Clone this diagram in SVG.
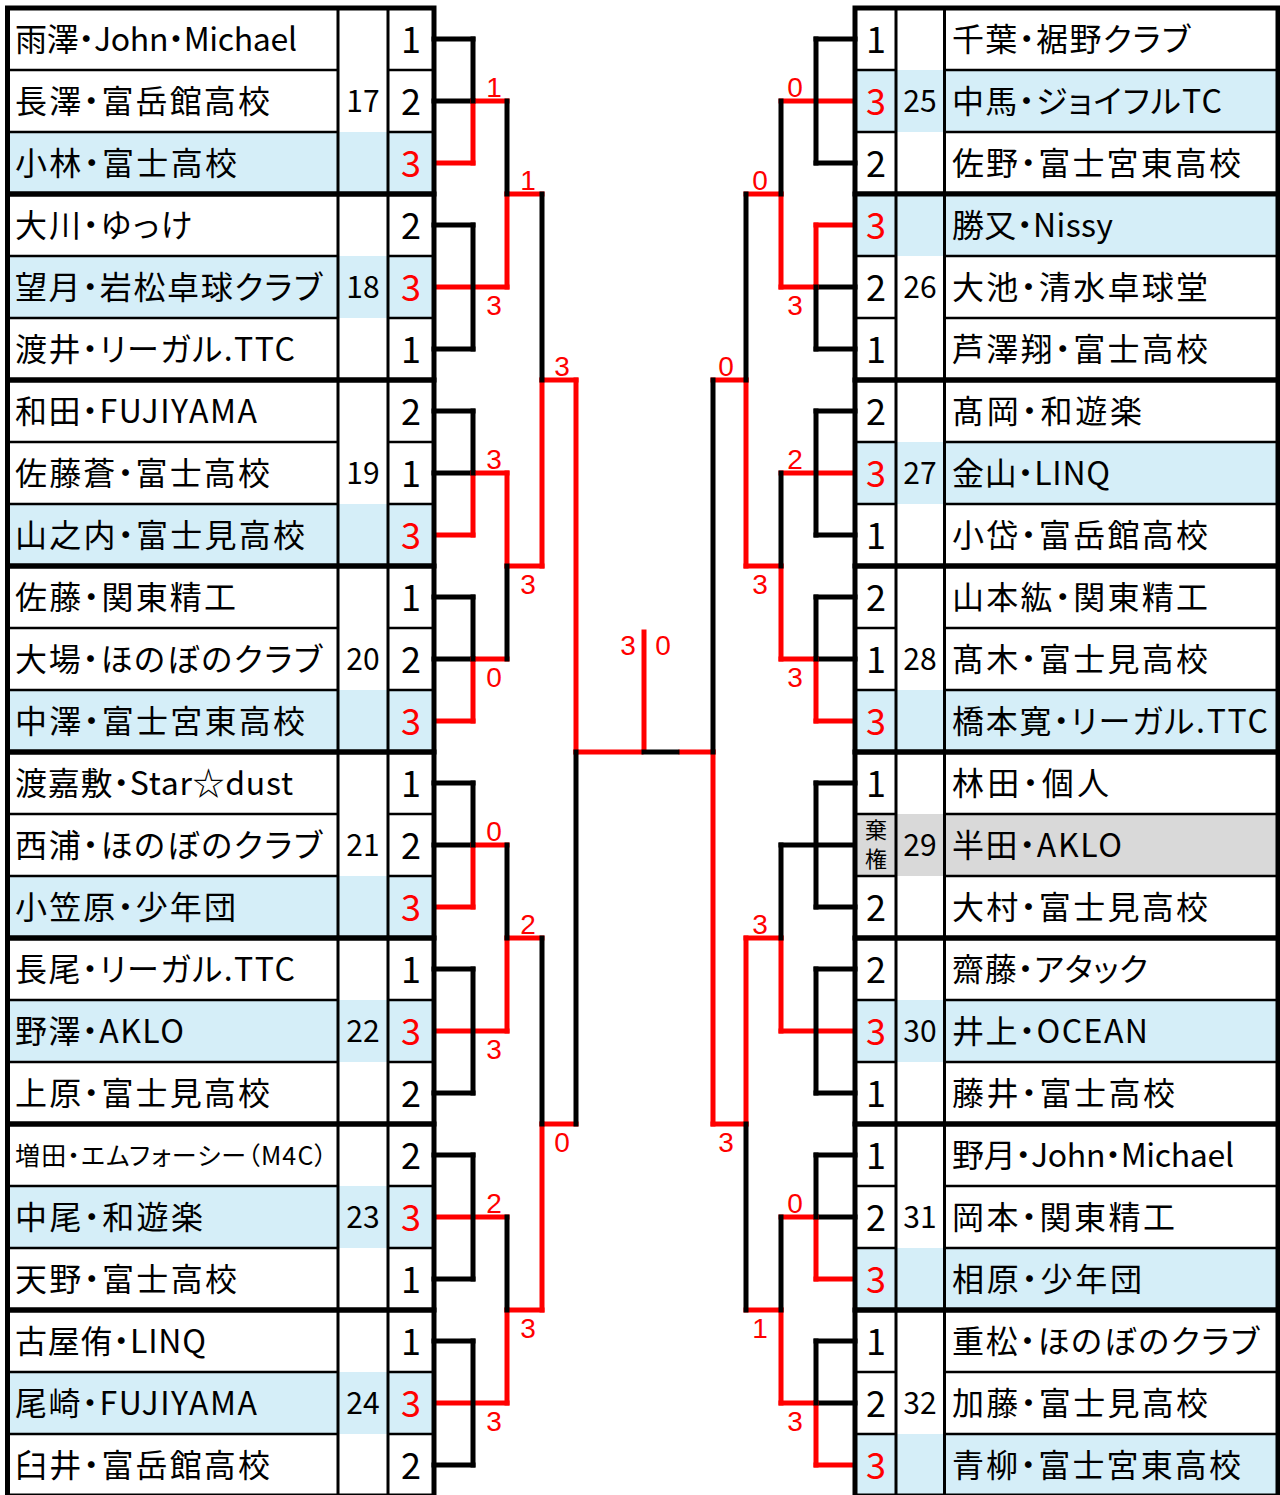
<svg xmlns="http://www.w3.org/2000/svg" width="1280" height="1495" viewBox="0 0 1280 1495">
<style>
.nm{font-family:"Noto Sans CJK JP","Noto Sans",sans-serif;font-size:32px;fill:#000;font-feature-settings:"palt"}
.sm{font-size:25px}
.sc{font-family:"Noto Sans CJK JP","Noto Sans",sans-serif;font-size:36px;text-anchor:middle;fill:#000}
.w{fill:#f00}
.gn{font-family:"Noto Sans CJK JP","Noto Sans",sans-serif;font-size:30px;text-anchor:middle;fill:#000}
.kk{font-family:"Noto Sans CJK JP","Noto Sans",sans-serif;font-size:22px;text-anchor:middle;fill:#000}
.lb{font-family:"Liberation Sans",Arial,sans-serif;font-size:28px;fill:#f00;text-anchor:middle}
.bl{fill:#D5EEF8}
.gy{fill:#D9D9D9}
.thin{stroke:#000;stroke-width:2.5;fill:none}
.col{stroke:#000;stroke-width:3;fill:none}
.box{stroke:#000;stroke-width:5;fill:none}
.k{stroke:#000;stroke-width:5;stroke-linecap:square;fill:none}
.r{stroke:#f00;stroke-width:5;stroke-linecap:square;fill:none}
</style>
<rect x="0" y="0" width="1280" height="1495" fill="#fff"/>

<g id="connectors">
<path class="k" d="M434 39H473M434 101H473M434 225H473M434 349H473M434 411H473M434 473H473M434 597H473M434 659H473M434 783H473M434 845H473M434 969H473M434 1093H473M434 1155H473M434 1279H473M434 1341H473M434 1465H473"/>
<path class="k" d="M855 39H816M855 163H816M855 287H816M855 349H816M855 411H816M855 535H816M855 597H816M855 659H816M855 783H816M855 907H816M855 969H816M855 1093H816M855 1155H816M855 1217H816M855 1341H816M855 1403H816M855 845H781"/>
<path class="r" d="M434 163H473M434 535H473M434 721H473M434 907H473M434 287H507M434 1031H507M434 1217H507M434 1403H507M473 101H507M473 473H507M473 659H507M473 845H507M507 194H542M507 566H542M507 938H542M507 1310H542M542 380H576M542 1124H576M576 752H641"/>
<path class="r" d="M855 225H816M855 721H816M855 1279H816M855 1465H816M855 101H781M855 473H781M855 1031H781M816 287H781M816 659H781M816 1217H781M816 1403H781M781 194H746M781 566H746M781 938H746M781 1310H746M746 380H713M746 1124H713M713 752H681"/>
<path class="r" d="M473 101V163M473 473V535M473 659V721M473 845V907M507 194V287M507 473V566M507 938V1031M507 1310V1403M542 380V566M542 1124V1310M576 380V752"/>
<path class="r" d="M816 225V287M816 659V721M816 1217V1279M816 1403V1465M781 194V287M781 566V659M781 938V1031M781 1310V1403M746 380V566M746 938V1124M713 752V1124"/>
<path class="r" d="M644 632V749"/>
<path class="k" d="M473 39V101M473 225V349M473 411V473M473 597V659M473 783V845M473 969V1093M473 1155V1279M473 1341V1465M507 101V194M507 566V659M507 845V938M507 1217V1310M542 194V380M542 938V1124M576 752V1124"/>
<path class="k" d="M816 39V163M816 287V349M816 411V535M816 597V659M816 783V907M816 969V1093M816 1155V1217M816 1341V1403M781 101V194M781 473V566M781 845V938M781 1217V1310M746 194V380M746 1124V1310M713 380V752"/>
<path class="k" d="M644 752H677"/>
<g id="connector-labels">
<text class="lb" x="494" y="97">1</text>
<text class="lb" x="494" y="315">3</text>
<text class="lb" x="494" y="469">3</text>
<text class="lb" x="494" y="687">0</text>
<text class="lb" x="494" y="841">0</text>
<text class="lb" x="494" y="1059">3</text>
<text class="lb" x="494" y="1213">2</text>
<text class="lb" x="494" y="1431">3</text>
<text class="lb" x="528" y="190">1</text>
<text class="lb" x="528" y="594">3</text>
<text class="lb" x="528" y="934">2</text>
<text class="lb" x="528" y="1338">3</text>
<text class="lb" x="562" y="376">3</text>
<text class="lb" x="562" y="1152">0</text>
<text class="lb" x="628" y="655">3</text>
<text class="lb" x="663" y="655">0</text>
<text class="lb" x="795" y="97">0</text>
<text class="lb" x="795" y="315">3</text>
<text class="lb" x="795" y="469">2</text>
<text class="lb" x="795" y="687">3</text>
<text class="lb" x="795" y="1213">0</text>
<text class="lb" x="795" y="1431">3</text>
<text class="lb" x="760" y="190">0</text>
<text class="lb" x="760" y="594">3</text>
<text class="lb" x="760" y="934">3</text>
<text class="lb" x="760" y="1338">1</text>
<text class="lb" x="726" y="376">0</text>
<text class="lb" x="726" y="1152">3</text>
</g>
</g>

<g id="g17">
<rect class="bl" x="10" y="132" width="422" height="62"/>
<text class="nm" x="15" y="51" textLength="282">雨澤・John・Michael</text>
<text class="nm" x="15" y="113" textLength="255">長澤・富岳館高校</text>
<text class="nm" x="15" y="175" textLength="222">小林・富士高校</text>
<text class="gn" x="363" y="112">17</text>
<text class="sc" x="411" y="53">1</text>
<text class="sc" x="411" y="115">2</text>
<text class="sc w" x="411" y="177">3</text>
<path class="thin" d="M8 70H338M388 70H434M8 132H338M388 132H434"/>
<path class="col" d="M338 8V194M388 8V194"/>
<rect class="box" x="7.5" y="8" width="426.5" height="186"/>
</g>
<g id="g18">
<rect class="bl" x="10" y="256" width="422" height="62"/>
<text class="nm" x="15" y="237" textLength="177">大川・ゆっけ</text>
<text class="nm" x="15" y="299" textLength="307">望月・岩松卓球クラブ</text>
<text class="nm" x="15" y="361" textLength="280">渡井・リーガル.TTC</text>
<text class="gn" x="363" y="298">18</text>
<text class="sc" x="411" y="239">2</text>
<text class="sc w" x="411" y="301">3</text>
<text class="sc" x="411" y="363">1</text>
<path class="thin" d="M8 256H338M388 256H434M8 318H338M388 318H434"/>
<path class="col" d="M338 194V380M388 194V380"/>
<rect class="box" x="7.5" y="194" width="426.5" height="186"/>
</g>
<g id="g19">
<rect class="bl" x="10" y="504" width="422" height="62"/>
<text class="nm" x="15" y="423" textLength="242">和田・FUJIYAMA</text>
<text class="nm" x="15" y="485" textLength="255">佐藤蒼・富士高校</text>
<text class="nm" x="15" y="547" textLength="290">山之内・富士見高校</text>
<text class="gn" x="363" y="484">19</text>
<text class="sc" x="411" y="425">2</text>
<text class="sc" x="411" y="487">1</text>
<text class="sc w" x="411" y="549">3</text>
<path class="thin" d="M8 442H338M388 442H434M8 504H338M388 504H434"/>
<path class="col" d="M338 380V566M388 380V566"/>
<rect class="box" x="7.5" y="380" width="426.5" height="186"/>
</g>
<g id="g20">
<rect class="bl" x="10" y="690" width="422" height="62"/>
<text class="nm" x="15" y="609" textLength="221">佐藤・関東精工</text>
<text class="nm" x="15" y="671" textLength="307">大場・ほのぼのクラブ</text>
<text class="nm" x="15" y="733" textLength="290">中澤・富士宮東高校</text>
<text class="gn" x="363" y="670">20</text>
<text class="sc" x="411" y="611">1</text>
<text class="sc" x="411" y="673">2</text>
<text class="sc w" x="411" y="735">3</text>
<path class="thin" d="M8 628H338M388 628H434M8 690H338M388 690H434"/>
<path class="col" d="M338 566V752M388 566V752"/>
<rect class="box" x="7.5" y="566" width="426.5" height="186"/>
</g>
<g id="g21">
<rect class="bl" x="10" y="876" width="422" height="62"/>
<text class="nm" x="15" y="795" textLength="278">渡嘉敷・Star☆dust</text>
<text class="nm" x="15" y="857" textLength="307">西浦・ほのぼのクラブ</text>
<text class="nm" x="15" y="919" textLength="221">小笠原・少年団</text>
<text class="gn" x="363" y="856">21</text>
<text class="sc" x="411" y="797">1</text>
<text class="sc" x="411" y="859">2</text>
<text class="sc w" x="411" y="921">3</text>
<path class="thin" d="M8 814H338M388 814H434M8 876H338M388 876H434"/>
<path class="col" d="M338 752V938M388 752V938"/>
<rect class="box" x="7.5" y="752" width="426.5" height="186"/>
</g>
<g id="g22">
<rect class="bl" x="10" y="1000" width="422" height="62"/>
<text class="nm" x="15" y="981" textLength="280">長尾・リーガル.TTC</text>
<text class="nm" x="15" y="1043" textLength="169">野澤・AKLO</text>
<text class="nm" x="15" y="1105" textLength="255">上原・富士見高校</text>
<text class="gn" x="363" y="1042">22</text>
<text class="sc" x="411" y="983">1</text>
<text class="sc w" x="411" y="1045">3</text>
<text class="sc" x="411" y="1107">2</text>
<path class="thin" d="M8 1000H338M388 1000H434M8 1062H338M388 1062H434"/>
<path class="col" d="M338 938V1124M388 938V1124"/>
<rect class="box" x="7.5" y="938" width="426.5" height="186"/>
</g>
<g id="g23">
<rect class="bl" x="10" y="1186" width="422" height="62"/>
<text class="nm sm" x="15" y="1165" textLength="312">増田・エムフォーシー（M4C）</text>
<text class="nm" x="15" y="1229" textLength="188">中尾・和遊楽</text>
<text class="nm" x="15" y="1291" textLength="222">天野・富士高校</text>
<text class="gn" x="363" y="1228">23</text>
<text class="sc" x="411" y="1169">2</text>
<text class="sc w" x="411" y="1231">3</text>
<text class="sc" x="411" y="1293">1</text>
<path class="thin" d="M8 1186H338M388 1186H434M8 1248H338M388 1248H434"/>
<path class="col" d="M338 1124V1310M388 1124V1310"/>
<rect class="box" x="7.5" y="1124" width="426.5" height="186"/>
</g>
<g id="g24">
<rect class="bl" x="10" y="1372" width="422" height="62"/>
<text class="nm" x="15" y="1353" textLength="191">古屋侑・LINQ</text>
<text class="nm" x="15" y="1415" textLength="242">尾崎・FUJIYAMA</text>
<text class="nm" x="15" y="1477" textLength="255">臼井・富岳館高校</text>
<text class="gn" x="363" y="1414">24</text>
<text class="sc" x="411" y="1355">1</text>
<text class="sc w" x="411" y="1417">3</text>
<text class="sc" x="411" y="1479">2</text>
<path class="thin" d="M8 1372H338M388 1372H434M8 1434H338M388 1434H434"/>
<path class="col" d="M338 1310V1496M388 1310V1496"/>
<rect class="box" x="7.5" y="1310" width="426.5" height="186"/>
</g>

<g id="g25">
<rect class="bl" x="857" y="70" width="419" height="62"/>
<text class="nm" x="952" y="51" textLength="238">千葉・裾野クラブ</text>
<text class="nm" x="952" y="113" textLength="270">中馬・ジョイフルTC</text>
<text class="nm" x="952" y="175" textLength="289">佐野・富士宮東高校</text>
<text class="gn" x="920" y="112">25</text>
<text class="sc" x="876" y="53">1</text>
<text class="sc w" x="876" y="115">3</text>
<text class="sc" x="876" y="177">2</text>
<path class="thin" d="M855 70H896M944.5 70H1278M855 132H896M944.5 132H1278"/>
<path class="col" d="M896 8V194M944.5 8V194"/>
<rect class="box" x="855" y="8" width="423" height="186"/>
</g>
<g id="g26">
<rect class="bl" x="857" y="194" width="419" height="62"/>
<text class="nm" x="952" y="237" textLength="161">勝又・Nissy</text>
<text class="nm" x="952" y="299" textLength="256">大池・清水卓球堂</text>
<text class="nm" x="952" y="361" textLength="256">芦澤翔・富士高校</text>
<text class="gn" x="920" y="298">26</text>
<text class="sc w" x="876" y="239">3</text>
<text class="sc" x="876" y="301">2</text>
<text class="sc" x="876" y="363">1</text>
<path class="thin" d="M855 256H896M944.5 256H1278M855 318H896M944.5 318H1278"/>
<path class="col" d="M896 194V380M944.5 194V380"/>
<rect class="box" x="855" y="194" width="423" height="186"/>
</g>
<g id="g27">
<rect class="bl" x="857" y="442" width="419" height="62"/>
<text class="nm" x="952" y="423" textLength="190">髙岡・和遊楽</text>
<text class="nm" x="952" y="485" textLength="158">金山・LINQ</text>
<text class="nm" x="952" y="547" textLength="256">小岱・富岳館高校</text>
<text class="gn" x="920" y="484">27</text>
<text class="sc" x="876" y="425">2</text>
<text class="sc w" x="876" y="487">3</text>
<text class="sc" x="876" y="549">1</text>
<path class="thin" d="M855 442H896M944.5 442H1278M855 504H896M944.5 504H1278"/>
<path class="col" d="M896 380V566M944.5 380V566"/>
<rect class="box" x="855" y="380" width="423" height="186"/>
</g>
<g id="g28">
<rect class="bl" x="857" y="690" width="419" height="62"/>
<text class="nm" x="952" y="609" textLength="256">山本紘・関東精工</text>
<text class="nm" x="952" y="671" textLength="256">髙木・富士見高校</text>
<text class="nm" x="952" y="733" textLength="316">橋本寛・リーガル.TTC</text>
<text class="gn" x="920" y="670">28</text>
<text class="sc" x="876" y="611">2</text>
<text class="sc" x="876" y="673">1</text>
<text class="sc w" x="876" y="735">3</text>
<path class="thin" d="M855 628H896M944.5 628H1278M855 690H896M944.5 690H1278"/>
<path class="col" d="M896 566V752M944.5 566V752"/>
<rect class="box" x="855" y="566" width="423" height="186"/>
</g>
<g id="g29">
<rect class="gy" x="857" y="814" width="419" height="62"/>
<text class="nm" x="952" y="795" textLength="157">林田・個人</text>
<text class="nm" x="952" y="857" textLength="170">半田・AKLO</text>
<text class="nm" x="952" y="919" textLength="256">大村・富士見高校</text>
<text class="gn" x="920" y="856">29</text>
<text class="sc" x="876" y="797">1</text>
<text class="kk"><tspan x="876" y="838">棄</tspan><tspan x="876" y="867">権</tspan></text>
<text class="sc" x="876" y="921">2</text>
<path class="thin" d="M855 814H896M944.5 814H1278M855 876H896M944.5 876H1278"/>
<path class="col" d="M896 752V938M944.5 752V938"/>
<rect class="box" x="855" y="752" width="423" height="186"/>
</g>
<g id="g30">
<rect class="bl" x="857" y="1000" width="419" height="62"/>
<text class="nm" x="952" y="981" textLength="196">齋藤・アタック</text>
<text class="nm" x="952" y="1043" textLength="196">井上・OCEAN</text>
<text class="nm" x="952" y="1105" textLength="223">藤井・富士高校</text>
<text class="gn" x="920" y="1042">30</text>
<text class="sc" x="876" y="983">2</text>
<text class="sc w" x="876" y="1045">3</text>
<text class="sc" x="876" y="1107">1</text>
<path class="thin" d="M855 1000H896M944.5 1000H1278M855 1062H896M944.5 1062H1278"/>
<path class="col" d="M896 938V1124M944.5 938V1124"/>
<rect class="box" x="855" y="938" width="423" height="186"/>
</g>
<g id="g31">
<rect class="bl" x="857" y="1248" width="419" height="62"/>
<text class="nm" x="952" y="1167" textLength="282">野月・John・Michael</text>
<text class="nm" x="952" y="1229" textLength="223">岡本・関東精工</text>
<text class="nm" x="952" y="1291" textLength="190">相原・少年団</text>
<text class="gn" x="920" y="1228">31</text>
<text class="sc" x="876" y="1169">1</text>
<text class="sc" x="876" y="1231">2</text>
<text class="sc w" x="876" y="1293">3</text>
<path class="thin" d="M855 1186H896M944.5 1186H1278M855 1248H896M944.5 1248H1278"/>
<path class="col" d="M896 1124V1310M944.5 1124V1310"/>
<rect class="box" x="855" y="1124" width="423" height="186"/>
</g>
<g id="g32">
<rect class="bl" x="857" y="1434" width="419" height="62"/>
<text class="nm" x="952" y="1353" textLength="307">重松・ほのぼのクラブ</text>
<text class="nm" x="952" y="1415" textLength="256">加藤・富士見高校</text>
<text class="nm" x="952" y="1477" textLength="289">青柳・富士宮東高校</text>
<text class="gn" x="920" y="1414">32</text>
<text class="sc" x="876" y="1355">1</text>
<text class="sc" x="876" y="1417">2</text>
<text class="sc w" x="876" y="1479">3</text>
<path class="thin" d="M855 1372H896M944.5 1372H1278M855 1434H896M944.5 1434H1278"/>
<path class="col" d="M896 1310V1496M944.5 1310V1496"/>
<rect class="box" x="855" y="1310" width="423" height="186"/>
</g>
</svg>
